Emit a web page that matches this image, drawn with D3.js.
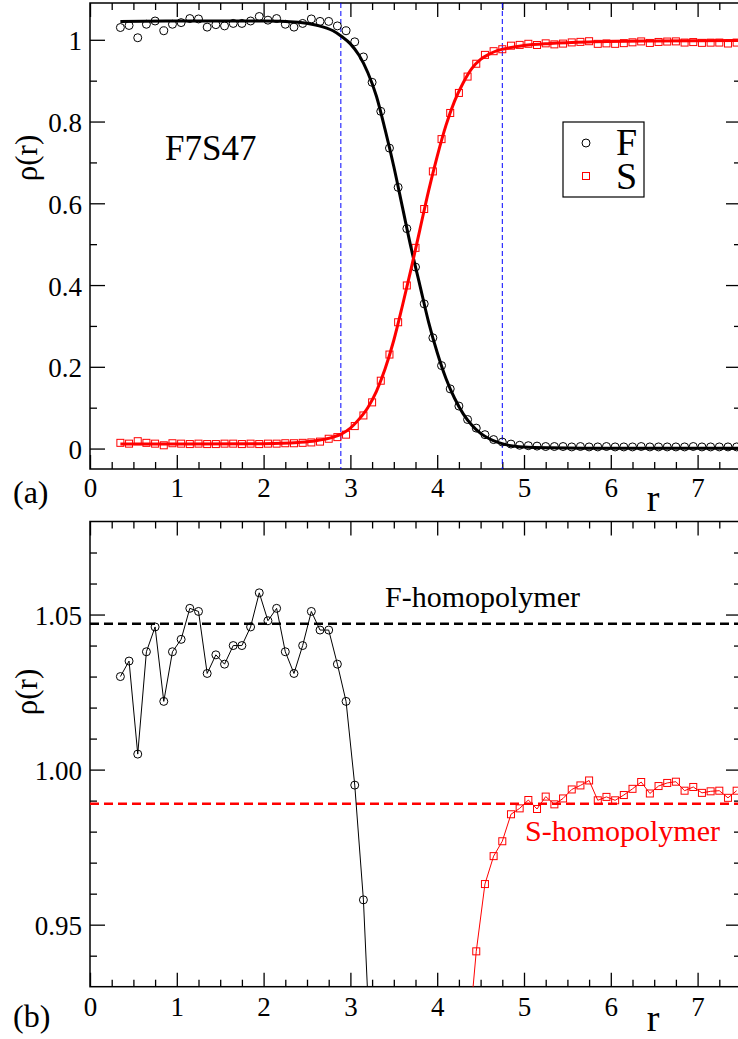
<!DOCTYPE html>
<html>
<head>
<meta charset="utf-8">
<script src="https://cdn.jsdelivr.net/npm/d3@7"></script>
<style>
body { margin: 0; background: #fff; }
svg { display: block; font-family: "Liberation Serif", "Times New Roman", serif; }
</style>
</head>
<body>
<svg id="chart" width="738" height="1039"></svg>
<script>
// radial grid of the simulation data
var rGrid = [0.35,0.45,0.55,0.65,0.75,0.85,0.95,1.05,1.15,1.25,
	1.35,1.45,1.55,1.65,1.75,1.85,1.95,2.05,2.15,2.25,
	2.35,2.45,2.55,2.65,2.75,2.85,2.95,3.05,3.15,3.25,
	3.35,3.45,3.55,3.65,3.75,3.85,3.95,4.05,4.15,4.25,
	4.35,4.45,4.55,4.65,4.75,4.85,4.95,5.05,5.15,5.25,
	5.35,5.45,5.55,5.65,5.75,5.85,5.95,6.05,6.15,6.25,
	6.35,6.45,6.55,6.65,6.75,6.85,6.95,7.05,7.15,7.25,
	7.35,7.45];

var fData = [1.030,1.035,1.005,1.038,1.046,1.022,1.038,1.042,1.052,1.051,
	1.031,1.037,1.034,1.040,1.040,1.046,1.057,1.048,1.052,1.038,
	1.031,1.040,1.051,1.045,1.045,1.034,1.022,0.995,0.958,0.896,
	0.825,0.735,0.639,0.538,0.444,0.354,0.271,0.203,0.146,0.104,
	0.071,0.050,0.034,0.022,0.016,0.011,0.008,0.007,0.006,0.005,
	0.005,0.005,0.004,0.005,0.004,0.004,0.005,0.004,0.004,0.004,
	0.005,0.004,0.004,0.004,0.004,0.004,0.005,0.004,0.004,0.004,
	0.004,0.004];

var sData = [0.014,0.012,0.018,0.014,0.012,0.008,0.013,0.012,0.011,0.012,
	0.011,0.011,0.012,0.012,0.011,0.012,0.011,0.012,0.012,0.013,
	0.013,0.014,0.015,0.017,0.024,0.028,0.034,0.055,0.081,0.113,
	0.166,0.230,0.309,0.399,0.491,0.586,0.678,0.757,0.821,0.870,
	0.910,0.9414,0.9631,0.9721,0.9769,0.9856,0.9875,0.9902,0.9873,0.9913,
	0.9888,0.9907,0.9936,0.9949,0.9965,0.9901,0.9912,0.9901,0.9918,0.9938,
	0.9960,0.9923,0.9947,0.9957,0.9961,0.9932,0.9944,0.9925,0.9930,0.9932,
	0.9909,0.9932];

// fitted profiles
var fitR = [0.35,1.0,2.0,2.4,2.6,2.8,2.9,3.0,3.1,3.2,3.3,3.4,3.5,3.6,3.7,3.8,3.9,4.0,
	4.1,4.2,4.3,4.4,4.5,4.6,4.7,4.8,5.0,5.3,5.8,6.5,7.5];
var fitF = [1.045,1.046,1.046,1.043,1.036,1.022,1.008,0.990,0.962,0.920,0.862,0.780,0.690,
	0.590,0.490,0.400,0.310,0.235,0.172,0.123,0.085,0.057,0.037,0.024,0.015,0.009,
	0.004,0.002,0.001,0.001,0.001];
var fitS = [0.011,0.011,0.012,0.015,0.019,0.028,0.036,0.050,0.072,0.100,0.140,0.195,0.265,
	0.350,0.440,0.535,0.630,0.715,0.790,0.850,0.895,0.930,0.952,0.965,0.974,0.979,
	0.986,0.991,0.995,0.997,0.998];

var xTicks = [0,1,2,3,4,5,6,7];
var topYTicks = [0,0.2,0.4,0.6,0.8,1];
var botYTicks = [0.95,1.00,1.05];
var interfaceR = [2.89, 4.75];
var homoF = 1.047, homoS = 0.989;

var svg = d3.select("#chart");

var x = d3.scaleLinear().domain([0, 7.5]).range([90, 741]);
var yTop = d3.scaleLinear().domain([-0.05, 1.09]).range([469, 3]);
var yBot = d3.scaleLinear().domain([0.93, 1.08]).range([986.7, 521.5]);

function range(a, b, s) {
	var out = [];
	for (var v = a; v <= b + 1e-9; v += s) out.push(+v.toFixed(4));
	return out;
}
var xMinor = range(0, 7.5, 0.25).filter(function(d) { return d % 1 != 0; });

function styleAxis(g, size) {
	g.attr("font-family", null).attr("font-size", size);
	g.selectAll(".domain").remove();
	g.selectAll("line").attr("stroke", "#000").attr("stroke-width", 1.3);
	g.selectAll("text").attr("fill", "#000");
}

function drawPanel(y, yTicks, yMinor, fmt, labelPad, name) {
	var y0 = y.range()[0], y1 = y.range()[1];

	svg.append("clipPath").attr("id", "clip-" + name)
		.append("rect")
		.attr("x", 90).attr("y", y1)
		.attr("width", 651).attr("height", y0 - y1);

	// ticks: major with labels, minor without
	svg.append("g").attr("transform", "translate(0," + y0 + ")")
		.call(d3.axisBottom(x).tickValues(xTicks).tickSizeInner(-14).tickSizeOuter(0).tickPadding(labelPad).tickFormat(d3.format("d")))
		.call(styleAxis, 27);
	svg.append("g").attr("transform", "translate(0," + y0 + ")")
		.call(d3.axisBottom(x).tickValues(xMinor).tickSizeInner(-7).tickSizeOuter(0).tickFormat(""))
		.call(styleAxis, 27);
	svg.append("g").attr("transform", "translate(0," + y1 + ")")
		.call(d3.axisTop(x).tickValues(xTicks).tickSizeInner(-14).tickSizeOuter(0).tickFormat(""))
		.call(styleAxis, 27);
	svg.append("g").attr("transform", "translate(0," + y1 + ")")
		.call(d3.axisTop(x).tickValues(xMinor).tickSizeInner(-7).tickSizeOuter(0).tickFormat(""))
		.call(styleAxis, 27);

	var yl = svg.append("g").attr("transform", "translate(90,0)")
		.call(d3.axisLeft(y).tickValues(yTicks).tickSizeInner(-15).tickSizeOuter(0).tickPadding(8).tickFormat(fmt))
		.call(styleAxis, 27);
	yl.selectAll("text").attr("dy", "0.37em");
	svg.append("g").attr("transform", "translate(90,0)")
		.call(d3.axisLeft(y).tickValues(yMinor).tickSizeInner(-7).tickSizeOuter(0).tickFormat(""))
		.call(styleAxis, 27);
	svg.append("g").attr("transform", "translate(741,0)")
		.call(d3.axisRight(y).tickValues(yTicks).tickSizeInner(-15).tickSizeOuter(0).tickFormat(""))
		.call(styleAxis, 27);
	svg.append("g").attr("transform", "translate(741,0)")
		.call(d3.axisRight(y).tickValues(yMinor).tickSizeInner(-7).tickSizeOuter(0).tickFormat(""))
		.call(styleAxis, 27);

	svg.append("rect")
		.attr("x", 90).attr("y", y1)
		.attr("width", 651).attr("height", y0 - y1)
		.attr("fill", "none").attr("stroke", "#000").attr("stroke-width", 1.5);

	return svg.append("g").attr("clip-path", "url(#clip-" + name + ")");
}

function circles(g, y, vals) {
	g.selectAll(null)
		.data(rGrid)
	.enter().append("circle")
		.attr("cx", function(d) { return x(d); })
		.attr("cy", function(d, i) { return y(vals[i]); })
		.attr("r", 4)
		.attr("fill", "none")
		.attr("stroke", "#000")
		.attr("stroke-width", 1);
}

function squares(g, y, vals) {
	g.selectAll(null)
		.data(rGrid)
	.enter().append("rect")
		.attr("x", function(d) { return x(d) - 3.5; })
		.attr("y", function(d, i) { return y(vals[i]) - 3.5; })
		.attr("width", 7).attr("height", 7)
		.attr("fill", "none")
		.attr("stroke", "#f00")
		.attr("stroke-width", 1);
}

// ---------- panel (a) ----------
var gA = drawPanel(yTop, topYTicks, [0.1,0.3,0.5,0.7,0.9], function(d) { return String(d); }, 9, "a");

gA.selectAll(null)
	.data(interfaceR)
.enter().append("line")
	.attr("x1", function(d) { return x(d); })
	.attr("x2", function(d) { return x(d); })
	.attr("y1", 3).attr("y2", 469)
	.attr("stroke", "#0000ff")
	.attr("stroke-width", 1)
	.attr("stroke-dasharray", "5,3");

circles(gA, yTop, fData);
squares(gA, yTop, sData);

var fitLine = function(vals) {
	return d3.line()
		.x(function(d) { return x(d); })
		.y(function(d, i) { return yTop(vals[i]); })
		.curve(d3.curveMonotoneX)(fitR);
};
gA.append("path").attr("d", fitLine(fitF))
	.attr("fill", "none").attr("stroke", "#000").attr("stroke-width", 3);
gA.append("path").attr("d", fitLine(fitS))
	.attr("fill", "none").attr("stroke", "#f00").attr("stroke-width", 3);

svg.append("text").attr("x", 165).attr("y", 160)
	.attr("font-size", 35).text("F7S47");

// legend
svg.append("rect").attr("x", 563).attr("y", 122).attr("width", 81).attr("height", 75)
	.attr("fill", "#fff").attr("stroke", "#000").attr("stroke-width", 1.2);
svg.append("circle").attr("cx", 586).attr("cy", 143).attr("r", 4)
	.attr("fill", "none").attr("stroke", "#000");
svg.append("rect").attr("x", 582.5).attr("y", 172.5).attr("width", 7).attr("height", 7)
	.attr("fill", "none").attr("stroke", "#f00");
svg.append("text").attr("x", 616).attr("y", 155).attr("font-size", 38).text("F");
svg.append("text").attr("x", 616).attr("y", 189).attr("font-size", 38).text("S");

svg.append("text").attr("transform", "translate(37,158) rotate(-90)")
	.attr("text-anchor", "middle").attr("font-size", 31).text("ρ(r)");
svg.append("text").attr("x", 13).attr("y", 503).attr("font-size", 32).text("(a)");
svg.append("text").attr("x", 653).attr("y", 511).attr("text-anchor", "middle")
	.attr("font-size", 38).text("r");

// ---------- panel (b) ----------
var gB = drawPanel(yBot, botYTicks, [0.94,0.96,0.97,0.98,0.99,1.01,1.02,1.03,1.04,1.06,1.07], d3.format(".2f"), 10, "b");

gB.append("line")
	.attr("x1", 90).attr("x2", 741)
	.attr("y1", yBot(homoF)).attr("y2", yBot(homoF))
	.attr("stroke", "#000").attr("stroke-width", 2.5).attr("stroke-dasharray", "9,5");
gB.append("line")
	.attr("x1", 90).attr("x2", 741)
	.attr("y1", yBot(homoS)).attr("y2", yBot(homoS))
	.attr("stroke", "#f00").attr("stroke-width", 2.5).attr("stroke-dasharray", "9,5");

var dataLine = function(vals) {
	return d3.line()
		.x(function(d) { return x(d); })
		.y(function(d, i) { return yBot(vals[i]); })(rGrid);
};
gB.append("path").attr("d", dataLine(fData))
	.attr("fill", "none").attr("stroke", "#000").attr("stroke-width", 1);
gB.append("path").attr("d", dataLine(sData))
	.attr("fill", "none").attr("stroke", "#f00").attr("stroke-width", 1);
circles(gB, yBot, fData);
squares(gB, yBot, sData);

svg.append("text").attr("x", 385).attr("y", 607).attr("font-size", 30).text("F-homopolymer");
svg.append("text").attr("x", 525).attr("y", 841).attr("font-size", 30)
	.attr("fill", "#f00").text("S-homopolymer");

svg.append("text").attr("transform", "translate(37,692) rotate(-90)")
	.attr("text-anchor", "middle").attr("font-size", 31).text("ρ(r)");
svg.append("text").attr("x", 13).attr("y", 1027).attr("font-size", 32).text("(b)");
svg.append("text").attr("x", 653).attr("y", 1031).attr("text-anchor", "middle")
	.attr("font-size", 38).text("r");
</script>
</body>
</html>
